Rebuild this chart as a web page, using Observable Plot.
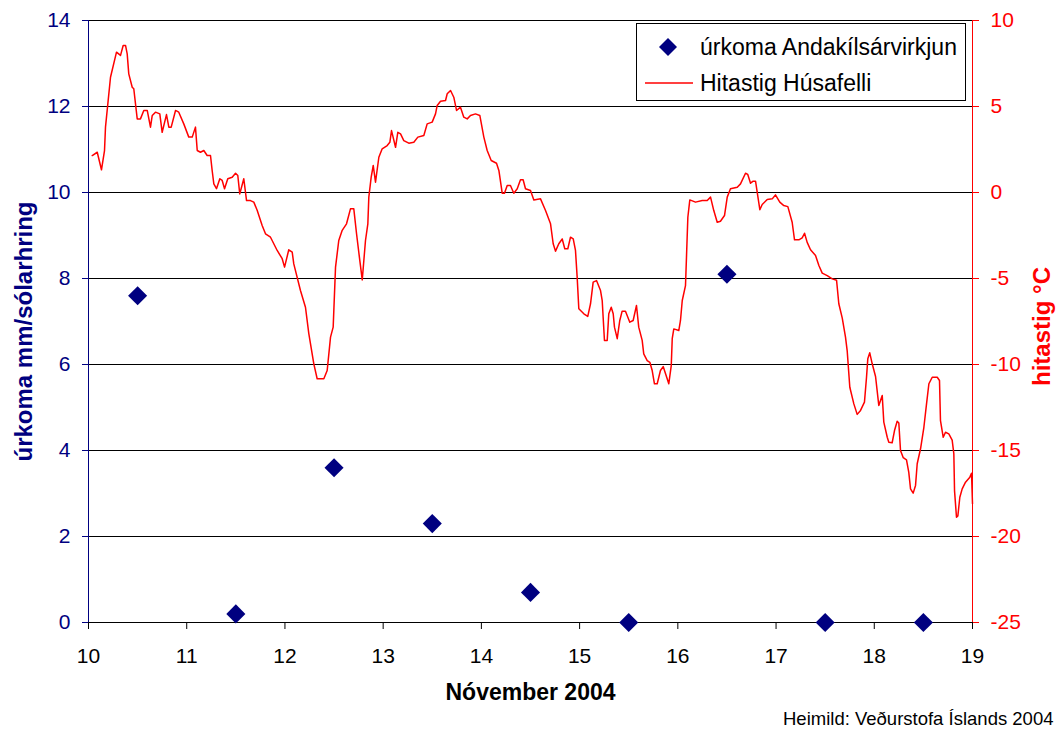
<!DOCTYPE html>
<html>
<head>
<meta charset="utf-8">
<script src="https://cdn.jsdelivr.net/npm/d3@7"></script>
<script src="https://cdn.jsdelivr.net/npm/@observablehq/plot@0.6"></script>
<style>
  body { margin: 0; background: #fff; font-family: "Liberation Sans", Arial, sans-serif; }
  #wrap { position: relative; width: 1059px; height: 731px; overflow: hidden; background: #fff; }
  #wrap > svg.plot { position: absolute; left: 0; top: 0; }
  #legend { position: absolute; left: 636px; top: 23px; }
  #caption { position: absolute; left: 783px; top: 708px; font-size: 18.5px; color: #000; white-space: nowrap; }
</style>
</head>
<body>
<div id="wrap">
  <svg id="legend" width="331" height="79" xmlns="http://www.w3.org/2000/svg">
    <rect x="0.5" y="0.5" width="329" height="77" fill="#fff" stroke="#000" stroke-width="1"></rect>
    <polygon points="32,15 41,24 32,33 23,24" fill="#000080"></polygon>
    <line x1="9" y1="60" x2="57" y2="60" stroke="#ff0000" stroke-width="1.5"></line>
    <text x="64" y="32" font-family="Liberation Sans, Arial, sans-serif" font-size="23" fill="#000">úrkoma Andakílsárvirkjun</text>
    <text x="64" y="68" font-family="Liberation Sans, Arial, sans-serif" font-size="23" fill="#000">Hitastig Húsafelli</text>
  </svg>
  <div id="caption">Heimild: Veðurstofa Íslands 2004</div>
</div>
<script>
// ---- data ----
const xTicks = [10, 11, 12, 13, 14, 15, 16, 17, 18, 19];
const leftTicks = [0, 2, 4, 6, 8, 10, 12, 14];
const rightTicks = [-25, -20, -15, -10, -5, 0, 5, 10];

const precipDays = [10.5, 11.5, 12.5, 13.5, 14.5, 15.5, 16.5, 17.5, 18.5];
const precipValues = [7.6, 0.2, 3.6, 2.3, 0.7, 0, 8.1, 0, 0];

const tempDays = [10.038,10.089,10.132,10.163,10.173,10.224,10.285,10.326,10.353,10.377,10.394,10.41,10.445,10.461,10.496,10.529,10.563,10.598,10.631,10.649,10.682,10.726,10.75,10.794,10.818,10.842,10.886,10.919,10.97,11.021,11.056,11.089,11.107,11.14,11.174,11.208,11.242,11.259,11.276,11.303,11.337,11.361,11.385,11.418,11.463,11.497,11.52,11.54,11.581,11.609,11.649,11.683,11.718,11.768,11.802,11.853,11.921,11.972,11.996,12.039,12.074,12.09,12.158,12.209,12.243,12.294,12.328,12.396,12.43,12.464,12.491,12.515,12.548,12.583,12.627,12.667,12.701,12.729,12.762,12.787,12.82,12.844,12.854,12.878,12.899,12.922,12.956,12.99,13.041,13.068,13.085,13.126,13.149,13.177,13.21,13.261,13.312,13.353,13.414,13.448,13.499,13.533,13.55,13.584,13.635,13.652,13.686,13.719,13.747,13.787,13.821,13.856,13.889,13.94,13.984,14.025,14.059,14.1,14.154,14.178,14.212,14.235,14.263,14.296,14.33,14.365,14.398,14.425,14.449,14.5,14.534,14.602,14.653,14.704,14.731,14.755,14.788,14.823,14.849,14.88,14.907,14.935,14.958,14.975,14.992,15.043,15.083,15.111,15.138,15.172,15.213,15.23,15.253,15.281,15.297,15.322,15.342,15.355,15.383,15.409,15.433,15.467,15.511,15.545,15.579,15.602,15.637,15.653,15.688,15.715,15.739,15.762,15.79,15.823,15.851,15.875,15.908,15.933,15.943,15.959,16.01,16.027,16.045,16.078,16.088,16.102,16.122,16.18,16.248,16.299,16.333,16.366,16.401,16.434,16.475,16.503,16.536,16.605,16.638,16.689,16.712,16.74,16.767,16.791,16.835,16.859,16.91,16.961,16.994,17.038,17.079,17.12,17.164,17.188,17.232,17.266,17.29,17.317,17.351,17.402,17.436,17.47,17.521,17.572,17.616,17.639,17.674,17.707,17.724,17.751,17.792,17.826,17.86,17.9,17.921,17.934,17.954,17.979,18.013,18.046,18.081,18.097,18.132,18.148,18.182,18.206,18.233,18.25,18.267,18.295,18.328,18.351,18.369,18.396,18.42,18.437,18.471,18.505,18.532,18.556,18.59,18.641,18.664,18.674,18.702,18.725,18.759,18.793,18.81,18.817,18.837,18.851,18.871,18.895,18.929,18.973,18.99,19.0];

const tempValues = [2.15,2.34,1.32,2.44,3.8,6.7,8.16,7.97,8.55,8.55,8.06,6.9,6.12,6.03,4.28,4.28,4.77,4.77,3.8,4.48,4.67,4.57,3.5,4.53,3.8,3.8,4.77,4.67,3.99,3.22,3.22,3.8,2.44,2.34,2.44,2.15,2.15,1.28,0.5,0.22,0.8,0.7,0.22,0.8,0.89,1.12,0.99,-0.08,0.8,-0.47,-0.47,-0.56,-1.05,-1.92,-2.4,-2.6,-3.37,-3.85,-4.34,-3.33,-3.47,-4.15,-5.7,-6.67,-8.2,-9.96,-10.83,-10.83,-10.35,-8.41,-7.83,-4.34,-2.79,-2.2,-1.82,-0.95,-0.95,-2.4,-3.95,-5.08,-2.79,-1.82,-0.27,0.89,1.57,0.6,2.05,2.54,2.73,2.92,3.6,2.63,3.5,3.41,3.02,2.87,2.92,3.22,3.31,3.99,4.09,4.57,5.06,5.31,5.35,5.74,5.93,5.54,4.77,4.96,4.38,4.28,4.48,4.57,4.48,3.22,2.44,1.86,1.7,1.28,-0.04,-0.04,0.41,0.41,-0.04,0.22,0.74,0.74,0.22,0.12,-0.43,-0.37,-1.05,-1.82,-2.98,-3.41,-2.98,-2.7,-3.27,-3.27,-2.6,-2.7,-3.37,-4.92,-6.76,-7.05,-7.2,-6.47,-5.21,-5.12,-5.7,-6.28,-8.6,-8.6,-7.05,-6.67,-7.05,-7.83,-8.5,-7.44,-6.9,-6.9,-7.54,-7.44,-6.57,-7.83,-8.6,-9.38,-9.77,-9.87,-10.35,-11.12,-11.12,-10.35,-10.12,-10.54,-11.12,-10.06,-8.5,-7.93,-8.02,-7.44,-6.28,-5.41,-3.76,-1.44,-0.43,-0.56,-0.47,-0.47,-0.27,-1.05,-1.73,-1.67,-1.34,-0.27,0.22,0.31,0.5,1.12,1.05,0.54,0.66,0.66,-1.0,-0.7,-0.41,-0.37,-0.14,-0.56,-0.76,-0.82,-1.73,-2.75,-2.75,-2.64,-2.37,-2.9,-3.33,-3.66,-4.24,-4.69,-4.83,-5.02,-5.1,-6.47,-7.3,-8.41,-9.19,-11.32,-12.29,-12.9,-12.67,-12.19,-10.74,-9.67,-9.32,-9.96,-10.7,-12.38,-11.8,-13.35,-14.23,-14.52,-14.55,-13.84,-13.3,-13.4,-15.0,-15.42,-15.54,-16.26,-17.23,-17.48,-17.03,-15.77,-14.9,-13.65,-12.29,-11.12,-10.74,-10.74,-10.93,-13.26,-14.23,-13.94,-14.03,-14.4,-15.19,-17.33,-18.88,-18.8,-17.72,-17.23,-16.84,-16.55,-16.32,-18.1];

// ---- build ----
const NAVY = "#000080";
const RED = "#ff0000";
// right axis (°C, -25..10) shares the left scale (0..14)
const toLeft = t => (t + 25) * 14 / 35;
const fromLeft = v => Math.round(v * 35 / 14 - 25);

const n = Math.min(tempDays.length, tempValues.length);
const temp = d3.range(n).map(i => ({day: tempDays[i], t: tempValues[i]}));
const precip = precipDays.map((d, i) => ({day: d, v: precipValues[i]}));

const chart = Plot.plot({
  width: 1059,
  height: 731,
  marginLeft: 88,
  marginRight: 87,
  marginTop: 20,
  marginBottom: 109,
  x: {domain: [10, 19]},
  y: {domain: [0, 14]},
  style: {fontFamily: '"Liberation Sans", Arial, sans-serif', fontSize: "21px", background: "transparent", color: "black"},
  marks: [
    Plot.gridY(leftTicks, {stroke: "black", strokeOpacity: 1, strokeWidth: 1}),
    Plot.axisX(xTicks, {anchor: "bottom", tickSize: 7, tickPadding: 19, stroke: "black", fill: "black", fontSize: 21, label: null}),
    Plot.axisY(leftTicks, {anchor: "left", tickSize: 6, tickPadding: 12, stroke: NAVY, fill: NAVY, fontSize: 21, label: null}),
    Plot.axisY(rightTicks.map(toLeft), {anchor: "right", tickSize: 6, tickPadding: 12, stroke: RED, fill: RED, fontSize: 21, label: null, tickFormat: fromLeft}),
    Plot.line(temp, {x: "day", y: d => toLeft(d.t), stroke: RED, strokeWidth: 1.5, curve: "linear"}),
    Plot.ruleY([0], {stroke: "black"}),
    Plot.ruleX([10], {stroke: NAVY}),
    Plot.ruleX([19], {stroke: RED}),
    Plot.dot(precip, {x: "day", y: "v", symbol: "diamond2", r: 8.6, fill: NAVY, stroke: "none"}),
    Plot.text(["Nóvember 2004"], {frameAnchor: "bottom", textAnchor: "middle", dy: 77, fontWeight: "bold", fontSize: 23, fill: "black"}),
    Plot.text(["úrkoma mm/sólarhring"], {frameAnchor: "left", textAnchor: "middle", dx: -64, dy: 10, rotate: -90, fontWeight: "bold", fontSize: 24, fill: NAVY}),
    Plot.text(["hitastig °C"], {frameAnchor: "right", textAnchor: "middle", dx: 70, dy: 5, rotate: -90, fontWeight: "bold", fontSize: 24, fill: RED})
  ]
});
chart.classList.add("plot");
const wrap = document.getElementById("wrap");
wrap.insertBefore(chart, wrap.firstChild);
</script>
</body>
</html>
